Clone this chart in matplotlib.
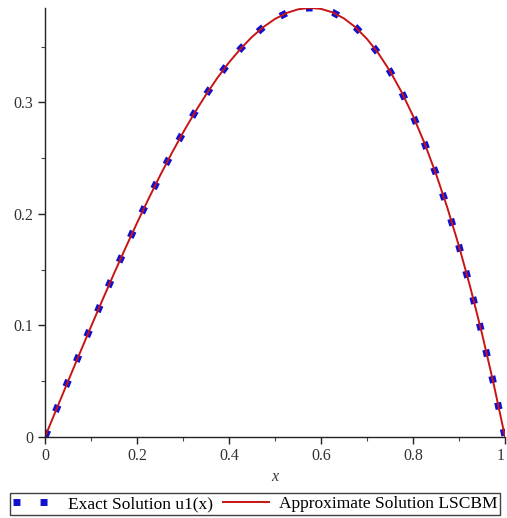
import matplotlib
matplotlib.use("Agg")
import matplotlib.pyplot as plt
from matplotlib.ticker import MultipleLocator, FixedFormatter, FixedLocator

# values
x_vals = [0, 0.025, 0.05, 0.075, 0.1, 0.125, 0.15, 0.175, 0.2, 0.225,
          0.25, 0.275, 0.3, 0.325, 0.35, 0.375, 0.4, 0.425, 0.45, 0.475,
          0.5, 0.525, 0.55, 0.575, 0.6, 0.625, 0.65, 0.675, 0.7, 0.725,
          0.75, 0.775, 0.8, 0.825, 0.85, 0.875, 0.9, 0.925, 0.95, 0.975, 1.0]
exact_u1 = [0, 0.025, 0.0499, 0.0746, 0.099, 0.1230, 0.1466, 0.1696, 0.192, 0.2136,
            0.2344, 0.2542, 0.273, 0.2907, 0.3071, 0.3223, 0.336, 0.3482, 0.3589, 0.3678,
            0.375, 0.3803, 0.3836, 0.3849, 0.384, 0.3809, 0.3754, 0.3675, 0.357, 0.3439,
            0.3281, 0.3095, 0.288, 0.2635, 0.2359, 0.2051, 0.171, 0.1335, 0.0926, 0.0481, 0]
approx_lscbm = [0, 0.025, 0.0499, 0.0746, 0.099, 0.1230, 0.1466, 0.1696, 0.192, 0.2136,
                0.2344, 0.2542, 0.273, 0.2907, 0.3071, 0.3223, 0.336, 0.3482, 0.3589, 0.3678,
                0.375, 0.3803, 0.3836, 0.3849, 0.384, 0.3809, 0.3754, 0.3675, 0.357, 0.3439,
                0.3281, 0.3095, 0.288, 0.2635, 0.2359, 0.2051, 0.171, 0.1335, 0.0926, 0.0481, 0]
x_ticks = [0, 0.2, 0.4, 0.6, 0.8, 1]
x_labels = ["0", "0.2", "0.4", "0.6", "0.8", "1"]
y_ticks = [0, 0.1, 0.2, 0.3]
y_labels = ["0", "0.1", "0.2", "0.3"]

plt.rcParams["font.family"] = ["Liberation Serif", "DejaVu Serif"]

fig = plt.figure(figsize=(5.07, 5.18), dpi=100)
ax = fig.add_axes([0.089, 0.157, 0.907, 0.828])

ax.plot(x_vals, exact_u1, color="#1010d0", linewidth=5.0,
        linestyle=(0, (1, 2.9)), dash_capstyle="butt",
        label="Exact Solution u1(x)")
ax.plot(x_vals, approx_lscbm, color="#c81414", linewidth=1.4,
        label="Approximate Solution LSCBM")

ax.set_xlim(0, 1)
ax.set_ylim(0, 0.385)
for s in ["top", "right"]:
    ax.spines[s].set_visible(False)
for s in ["left", "bottom"]:
    ax.spines[s].set_linewidth(1.0)
    ax.spines[s].set_color("#222222")

ax.xaxis.set_major_locator(FixedLocator(x_ticks))
ax.xaxis.set_major_formatter(FixedFormatter(x_labels))
ax.yaxis.set_major_locator(FixedLocator(y_ticks))
ax.yaxis.set_major_formatter(FixedFormatter(y_labels))
ax.xaxis.set_minor_locator(MultipleLocator(0.1))
ax.yaxis.set_minor_locator(MultipleLocator(0.05))
ax.tick_params(which="major", direction="out", length=5, width=1,
               labelsize=11.5, labelcolor="#333333", color="#222222")
ax.tick_params(which="minor", direction="out", length=3, width=0.8,
               color="#444444")
# keep the last x label inside the canvas
ax.get_xticklabels()[-1].set_horizontalalignment("right")

ax.set_xlabel("x", fontstyle="italic", fontsize=11.5, color="#333333", labelpad=3)

fig.legend(loc="lower center", bbox_to_anchor=(0.503, 0.0), ncol=2,
           fontsize=12.5, frameon=True, fancybox=False, edgecolor="#111111",
           handlelength=2.6, columnspacing=0.6, handletextpad=0.6,
           borderpad=0.15, borderaxespad=0.2)

fig.savefig("out.png", dpi=100)
